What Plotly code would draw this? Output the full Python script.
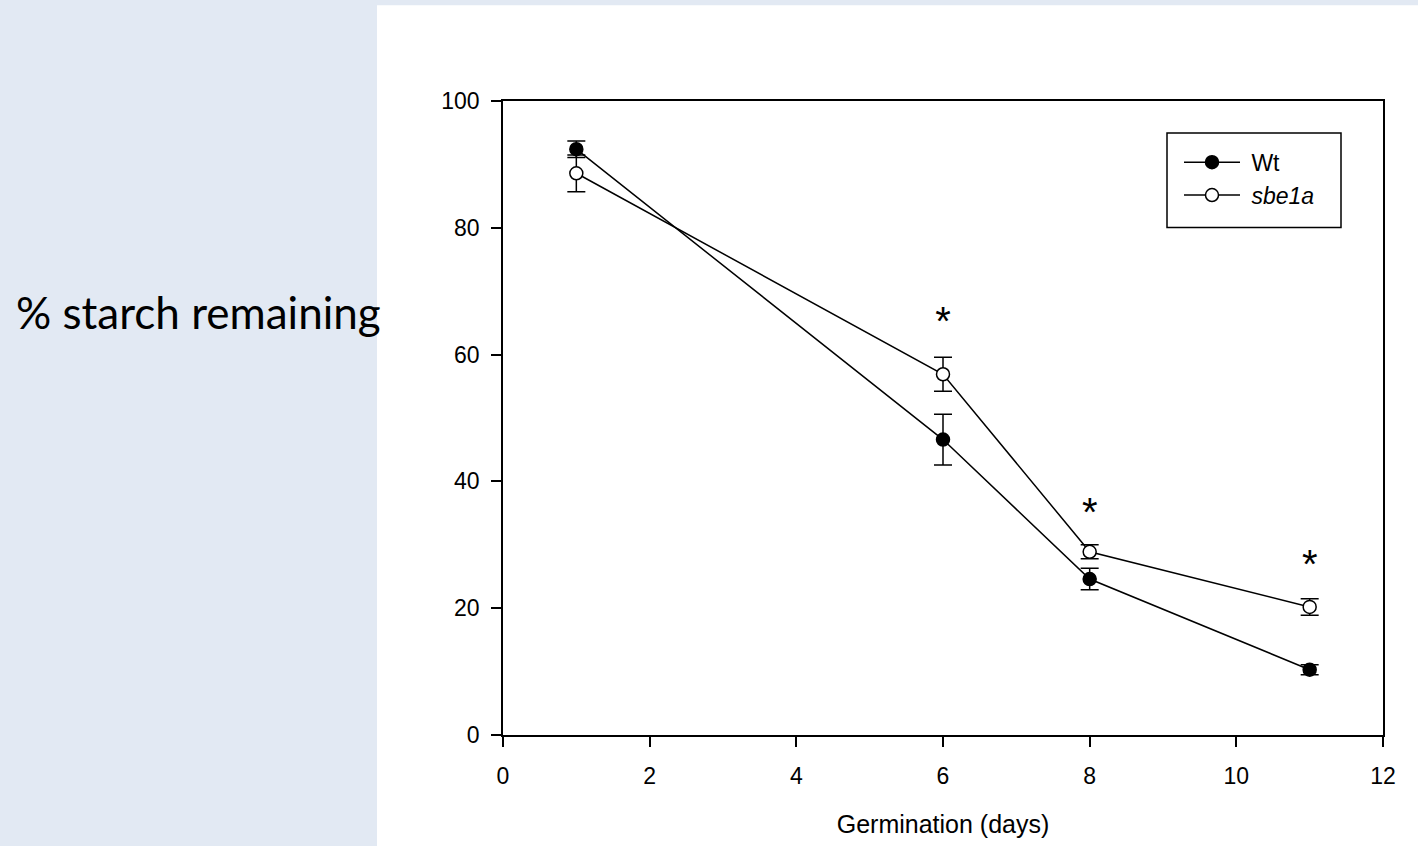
import plotly.graph_objects as go

days = [1, 6, 8, 11]
wt_mean = [92.4, 46.6, 24.6, 10.3]
wt_err = [1.3, 4.0, 1.7, 0.8]
sbe_mean = [88.6, 56.9, 28.9, 20.2]
sbe_err = [2.9, 2.7, 1.1, 1.3]
star_days = [6, 8, 11]
star_y = [64.6, 34.6, 26.4]

x_ticks = [0, 2, 4, 6, 8, 10, 12]
y_ticks = [0, 20, 40, 60, 80, 100]

fig = go.Figure()
fig.add_trace(go.Scatter(
    x=days, y=wt_mean, name="\u00a0Wt", mode="lines+markers",
    line=dict(color="black", width=1.5),
    marker=dict(symbol="circle", size=13, color="black", line=dict(color="black", width=1.5)),
    error_y=dict(type="data", array=wt_err, visible=True, color="black", thickness=1.5, width=9),
))
fig.add_trace(go.Scatter(
    x=days, y=sbe_mean, name="\u00a0<i>sbe1a</i>", mode="lines+markers",
    line=dict(color="black", width=1.5),
    marker=dict(symbol="circle", size=13, color="white", line=dict(color="black", width=1.5)),
    error_y=dict(type="data", array=sbe_err, visible=True, color="black", thickness=1.5, width=9),
))
fig.add_trace(go.Scatter(
    x=star_days, y=star_y, mode="text", text=["*"] * len(star_days),
    textfont=dict(family="Liberation Sans, Arial", size=40, color="black"),
    showlegend=False, hoverinfo="skip",
))

L, R, T, B = 503, 35, 101, 109
W, H = 1418, 846
pw, ph = W - L - R, H - T - B

def px(xp):
    return (xp - L) / pw

def py(yp):
    return (H - B - yp) / ph

fig.add_shape(type="rect", xref="paper", yref="paper",
              x0=px(377), x1=px(1418) + 0.01, y0=py(846) - 0.01, y1=py(5),
              fillcolor="white", line=dict(width=0), layer="below")
# legend frame
fig.add_shape(type="rect", xref="paper", yref="paper",
              x0=px(1167), x1=px(1341), y0=py(228), y1=py(133),
              fillcolor="white", line=dict(color="black", width=1.5), layer="above")

fig.add_annotation(xref="paper", yref="paper", x=px(198), y=py(313),
                   text="% starch remaining", showarrow=False,
                   font=dict(family="Lato, Open Sans", size=44, color="black"),
                   xanchor="center", yanchor="middle")

axis_font = dict(family="Liberation Sans, Arial", size=23, color="black")
fig.update_xaxes(range=[0, 12], tickvals=x_ticks, ticks="outside", ticklen=10, tickwidth=1.5,
                 tickcolor="black", showline=True, linecolor="black", linewidth=1.5, mirror=True,
                 showgrid=False, zeroline=False, tickfont=axis_font, ticklabelstandoff=10,
                 title=dict(text="Germination (days)", font=dict(family="Liberation Sans, Arial", size=25, color="black"), standoff=27))
fig.update_yaxes(range=[0, 100], tickvals=y_ticks, ticks="outside", ticklen=10, tickwidth=1.5,
                 tickcolor="black", showline=True, linecolor="black", linewidth=1.5, mirror=True,
                 showgrid=False, zeroline=False, tickfont=axis_font, ticklabelstandoff=7)

fig.update_layout(
    width=W, height=H,
    margin=dict(l=L, r=R, t=T, b=B),
    paper_bgcolor="#E2E9F3", plot_bgcolor="white",
    legend=dict(x=px(1167), y=py(133), xanchor="left", yanchor="top",
                bgcolor="rgba(0,0,0,0)", borderwidth=0,
                font=dict(family="Liberation Sans, Arial", size=23, color="black"),
                title=dict(text=" ", font=dict(size=6)),
                itemwidth=56, indentation=12, tracegroupgap=6),
)

fig.write_html("out.html", config={"displayModeBar": False},
               post_script="document.body.style.margin='0';document.body.style.overflow='hidden';")
